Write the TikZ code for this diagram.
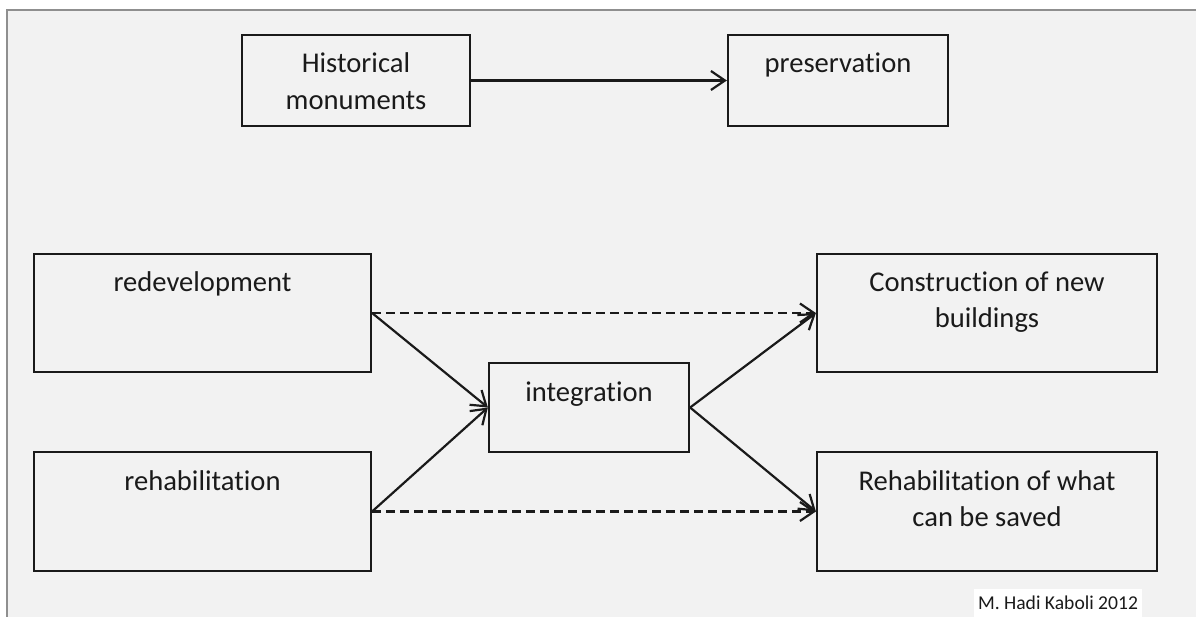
\documentclass[tikz,border=0pt]{standalone}
\usepackage{fontspec}
\setmainfont{Carlito}[Ligatures={NoCommon,NoRequired,NoContextual}]
\usetikzlibrary{arrows.meta,calc}
\definecolor{bg}{HTML}{F2F2F2}
\definecolor{framec}{HTML}{8F8F8F}
\definecolor{ink}{HTML}{1A1A1A}
\begin{document}
\begin{tikzpicture}[x=1pt,y=-1pt,
  box/.style={draw=ink, line width=2.2pt, rectangle, inner sep=0pt},
  txt/.style={font=\fontsize{28.6}{35}\selectfont, inner sep=0pt, anchor=base, text=ink},
  arr/.style={draw=ink, line width=2.2pt, -{Straight Barb[length=14pt,width=19pt,line width=2.2pt]}},
  dasharr/.style={arr, dash pattern=on 9pt off 5pt}]
\useasboundingbox (0,0) rectangle (1196,617);
\fill[white] (0,0) rectangle (1196,617);
\fill[bg] (7,10) rectangle (1196,617);
\draw[framec, line width=2pt] (7,617) -- (7,10) -- (1196,10);

\node[box, minimum width=228pt, minimum height=91pt] (hist) at (356,80.5) {};
\node[box, minimum width=220pt, minimum height=91pt] (pres) at (838,80.5) {};
\node[box, minimum width=337pt, minimum height=118pt] (redev) at (202.5,313) {};
\node[box, minimum width=337pt, minimum height=119pt] (rehab) at (202.5,511.5) {};
\node[box, minimum width=200pt, minimum height=89pt] (integ) at (589,407.5) {};
\node[box, minimum width=340pt, minimum height=118pt] (constr) at (987,313) {};
\node[box, minimum width=340pt, minimum height=119pt] (rwhat) at (987,511.5) {};

\node[txt] (histA) at (356,73) {Historical};
\node[txt] (histB) at (356,110) {monuments};
\node[txt] (presA) at (838,73) {preservation};
\node[txt] (redevA) at (202.5,292) {redevelopment};
\node[txt] (rehabA) at (202.5,490) {rehabilitation};
\node[txt] (integA) at (589,401) {integration};
\node[txt] (constrA) at (987,292) {Construction of new};
\node[txt] (constrB) at (987,328) {buildings};
\node[txt] (rwhatA) at (987,490) {Rehabilitation of what};
\node[txt] (rwhatB) at (987,526) {can be saved};

\node[fill=white, font=\fontsize{19.6}{24}\selectfont, minimum width=168pt, minimum height=28pt, inner sep=0pt, text=ink] (credit) at (1058,603) {M. Hadi Kaboli 2012};

\draw[arr] (hist.east) -- (pres.west);
\draw[arr] (redev.east) -- (integ.west);
\draw[arr] (rehab.east) -- (integ.west);
\draw[arr] (integ.east) -- (constr.west);
\draw[arr] (integ.east) -- (rwhat.west);
\draw[dasharr] (redev.east) -- (constr.west);
\draw[dasharr] (rehab.east) -- (rwhat.west);
\end{tikzpicture}
\end{document}
